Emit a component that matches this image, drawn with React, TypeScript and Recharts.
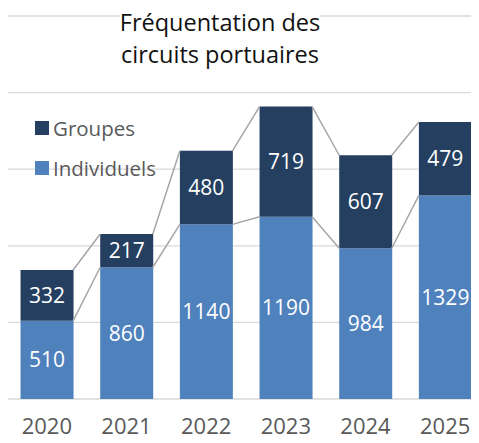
import React from "react";
import {
  ComposedChart,
  Bar,
  Line,
  XAxis,
  YAxis,
  CartesianGrid,
  LabelList,
} from "recharts";

const YEARS = ["2020", "2021", "2022", "2023", "2024", "2025"];
const INDIVIDUELS = [510, 860, 1140, 1190, 984, 1329];
const GROUPES = [332, 217, 480, 719, 607, 479];
const Y_TICKS = [0, 500, 1000, 1500, 2000, 2500];

const NAVY = "#243F60";
const BLUE = "#4F81BD";
const FONT = "'Open Sans', sans-serif";
// gap on each side of a bar, as a share of the category band
const BAR_GAP = 0.17;

const data = YEARS.map((year, i) => ({ year, ind: INDIVIDUELS[i], grp: GROUPES[i] }));

// series lines between neighbouring bars (null breaks the line)
const links = YEARS.slice(0, -1).flatMap((_, i) => [
  { x: i + 1 - BAR_GAP, ind: INDIVIDUELS[i], tot: INDIVIDUELS[i] + GROUPES[i] },
  { x: i + 1 + BAR_GAP, ind: INDIVIDUELS[i + 1], tot: INDIVIDUELS[i + 1] + GROUPES[i + 1] },
  { x: i + 1.5, ind: null, tot: null },
]);

const LEGEND = [
  { name: "Groupes", color: NAVY },
  { name: "Individuels", color: BLUE },
];

export default function App() {
  return (
    <div
      style={{
        position: "relative",
        width: 479,
        height: 443,
        margin: -8,
        overflow: "hidden",
        background: "#fff",
        fontFamily: FONT,
      }}
    >
      <ComposedChart
        width={486}
        height={443}
        data={data}
        margin={{ top: 16, right: 1, bottom: 0, left: 7 }}
        barCategoryGap={`${BAR_GAP * 100}%`}
      >
        <CartesianGrid vertical={false} stroke="#D9D9D9" strokeWidth={1.3} />
        <XAxis
          xAxisId="cat"
          dataKey="year"
          axisLine={false}
          tickLine={false}
          tickSize={0}
          tickMargin={19}
          height={44}
          interval={0}
          tick={{ fontSize: 22, fill: "#595959", fontFamily: FONT }}
        />
        <XAxis xAxisId="num" dataKey="x" type="number" domain={[0, 6]} allowDataOverflow hide />
        <YAxis hide domain={[0, 2500]} ticks={Y_TICKS} />
        <Bar xAxisId="cat" dataKey="ind" name="Individuels" stackId="s" fill={BLUE} isAnimationActive={false}>
          <LabelList dataKey="ind" position="center" fill="#fff" fontSize={21} fontFamily={FONT} />
        </Bar>
        <Bar xAxisId="cat" dataKey="grp" name="Groupes" stackId="s" fill={NAVY} isAnimationActive={false}>
          <LabelList dataKey="grp" position="center" fill="#fff" fontSize={21} fontFamily={FONT} />
        </Bar>
        <Line
          xAxisId="num"
          data={links}
          dataKey="ind"
          stroke="#A6A6A6"
          strokeWidth={1.5}
          dot={false}
          activeDot={false}
          isAnimationActive={false}
        />
        <Line
          xAxisId="num"
          data={links}
          dataKey="tot"
          stroke="#A6A6A6"
          strokeWidth={1.5}
          dot={false}
          activeDot={false}
          isAnimationActive={false}
        />
      </ComposedChart>
      <div style={{ position: "absolute", left: 35, top: 108 }}>
        {LEGEND.map((it) => (
          <div key={it.name} style={{ display: "flex", alignItems: "center", height: 40 }}>
            <div style={{ width: 14, height: 14, background: it.color, marginRight: 4 }} />
            <span style={{ fontSize: 20.5, color: "#595959" }}>{it.name}</span>
          </div>
        ))}
      </div>
      <div
        style={{
          position: "absolute",
          left: 0,
          top: 5.5,
          width: 440,
          textAlign: "center",
          pointerEvents: "none",
        }}
      >
        <span
          style={{
            display: "inline-block",
            background: "#fff",
            fontSize: 23.5,
            color: "#111",
            lineHeight: "normal",
          }}
        >
          Fréquentation des
          <br />
          circuits portuaires
        </span>
      </div>
    </div>
  );
}
